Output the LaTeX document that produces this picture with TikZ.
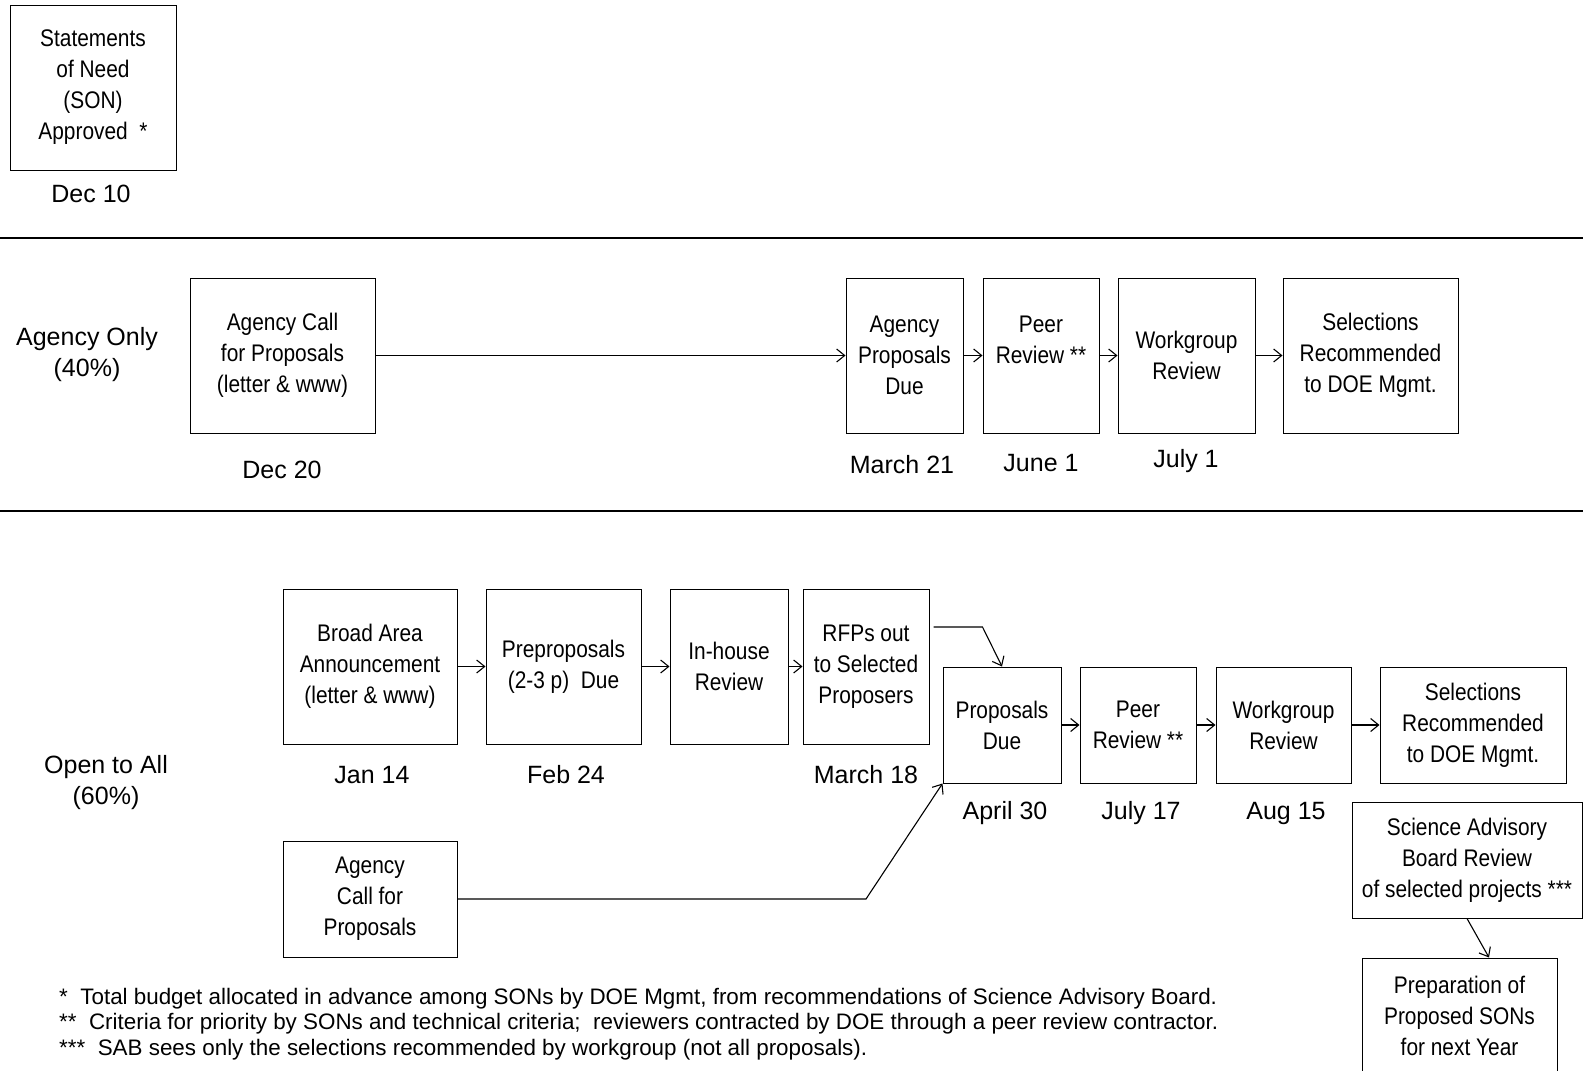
\documentclass[tikz,border=0pt]{standalone}
\usepackage{fontspec}
\setmainfont{Liberation Sans}
\newfontfamily\narrowfont[FakeStretch=0.87]{Liberation Sans}
\usepackage{tikz}
\usetikzlibrary{arrows.meta}
\tikzstyle{stage} = [rectangle, draw=black, line width=1pt, inner sep=0pt, align=center, font=\narrowfont\fontsize{24}{31}\selectfont]
\tikzstyle{datelabel} = [inner sep=0pt, font=\fontsize{25}{30}\selectfont]
\tikzstyle{track} = [inner sep=0pt, align=center, font=\fontsize{25}{31}\selectfont]
\tikzstyle{divider} = [line width=1.2pt]
\tikzstyle{arrow} = [line width=1.1pt,->,>={Straight Barb[length=8pt,width=13pt]}]

\begin{document}
\begin{tikzpicture}[x=1pt, y=-1pt]
\useasboundingbox (0,0) rectangle (1583,1071);

% top: statements of need
\node (son) [stage, minimum width=166pt, minimum height=165pt] at (93,87.5) {Statements\\of Need\\(SON)\\Approved\ \ *};
\node (dson) [datelabel] at (91,194) {Dec 10};

\draw [divider] (0,238) -- (1583,238);
\draw [divider] (0,511) -- (1583,511);

% agency only track
\node (agtrack) [track] at (87,354.5) {Agency Only\\(40\%)};
\node (agcall) [stage, minimum width=185pt, minimum height=155pt] at (282.5,355.5) {Agency Call\\for Proposals\\(letter \& www)};
\node (agdue) [stage, minimum width=117pt, minimum height=155pt] at (904.5,355.5) {Agency\\Proposals\\Due};
\node (agpeer) [stage, minimum width=116pt, minimum height=155pt] at (1041,355.5) {Peer\\Review **\\\mbox{}};
\node (agwork) [stage, minimum width=137pt, minimum height=155pt] at (1186.5,355.5) {Workgroup\\Review};
\node (agsel) [stage, minimum width=175pt, minimum height=155pt] at (1370.5,355.5) {Selections\\Recommended\\to DOE Mgmt.};
\node (dagcall) [datelabel] at (282,470) {Dec 20};
\node (dagdue) [datelabel] at (902,465) {March 21};
\node (dagpeer) [datelabel] at (1041,463) {June 1};
\node (dagwork) [datelabel] at (1186,461) {July 1};

\draw [arrow] (agcall) -- (agdue);
\draw [arrow] (agdue) -- (agpeer);
\draw [arrow] (agpeer) -- (agwork);
\draw [arrow] (agwork) -- (agsel);

% open to all track
\node (optrack) [track] at (106,783) {Open to All\\(60\%)};
\node (broad) [stage, minimum width=174pt, minimum height=155pt] at (370,666.5) {Broad Area\\Announcement\\(letter \& www)};
\node (prep) [stage, minimum width=155pt, minimum height=155pt] at (563.5,666.5) {Preproposals\\(2-3 p)\ \ Due};
\node (inhouse) [stage, minimum width=118pt, minimum height=155pt] at (729,666.5) {In-house\\Review};
\node (rfp) [stage, minimum width=126pt, minimum height=155pt] at (866,666.5) {RFPs out\\to Selected\\Proposers};
\node (opdue) [stage, minimum width=118pt, minimum height=116pt] at (1002,725) {Proposals\\Due};
\node (oppeer) [stage, minimum width=116pt, minimum height=116pt] at (1138,725) {Peer\\Review **};
\node (opwork) [stage, minimum width=135pt, minimum height=116pt] at (1283.5,725) {Workgroup\\Review};
\node (opsel) [stage, minimum width=186pt, minimum height=116pt] at (1473,725) {Selections\\Recommended\\to DOE Mgmt.};
\node (agcall2) [stage, minimum width=174pt, minimum height=116pt] at (370,899) {Agency\\Call for\\Proposals};
\node (sab) [stage, minimum width=230pt, minimum height=116pt] at (1467,860) {Science Advisory\\Board Review\\of selected projects ***};
\node (prepson) [stage, minimum width=195pt, minimum height=116pt] at (1459.5,1016) {Preparation of\\Proposed SONs\\for next Year};
\node (dbroad) [datelabel] at (372,775) {Jan 14};
\node (dprep) [datelabel] at (566,775) {Feb 24};
\node (drfp) [datelabel] at (866,775) {March 18};
\node (dopdue) [datelabel] at (1005,813) {April 30};
\node (doppeer) [datelabel] at (1141,813) {July 17};
\node (dopwork) [datelabel] at (1286,813) {Aug 15};

\draw [arrow] (broad) -- (prep);
\draw [arrow] (prep) -- (inhouse);
\draw [arrow] (inhouse) -- (rfp);
\draw [arrow] ([xshift=4pt,yshift=39.5pt]rfp.east) -- ++(49,0) -- (opdue.north);
\draw [arrow] (agcall2.east) -- (agcall2.east -| rfp) -- (opdue.south west);
\draw [arrow] (opdue) -- (oppeer);
\draw [arrow] (oppeer) -- (opwork);
\draw [arrow] (opwork) -- (opsel);
\draw [arrow] (sab.south) -- ([xshift=29.5pt]prepson.north);

% footnotes
\node (notes) [anchor=west, align=left, inner sep=0pt, font=\fontsize{22.4}{25.5}\selectfont] at (59,1024) {*\ \ Total budget allocated in advance among SONs by DOE Mgmt, from recommendations of Science Advisory Board.\\**\ \ Criteria for priority by SONs and technical criteria;\ \ reviewers contracted by DOE through a peer review contractor.\\***\ \ SAB sees only the selections recommended by workgroup (not all proposals).};
\end{tikzpicture}
\end{document}
